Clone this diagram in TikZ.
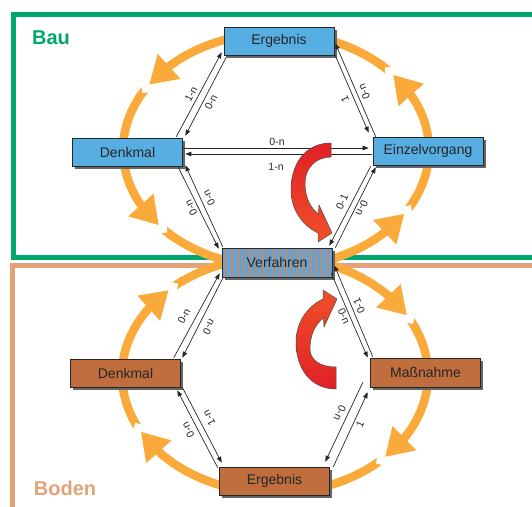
\documentclass[tikz,border=0pt]{standalone}
\usepackage{fontspec}
\setmainfont{Liberation Sans}
\usetikzlibrary{arrows.meta,bending,calc,shadows}
\definecolor{bblue}{RGB}{86,174,226}
\definecolor{bbrown}{RGB}{192,110,62}
\definecolor{orng}{RGB}{250,170,58}
\definecolor{gfr}{RGB}{0,166,108}
\definecolor{sfr}{RGB}{226,162,122}
\definecolor{vblue}{RGB}{92,164,220}
\definecolor{vor}{RGB}{204,140,96}
\definecolor{redA}{RGB}{226,32,38}
\definecolor{redB}{RGB}{240,80,40}
\tikzset{
  box/.style={draw=black!85, line width=0.6pt, minimum width=110pt, minimum height=28pt,
    inner sep=0pt, font=\fontsize{14}{16}\selectfont, text=black!85,
    drop shadow={shadow xshift=2.5pt, shadow yshift=-2.5pt, fill=black!60, opacity=1}},
  baubox/.style={box, fill=bblue},
  bodbox/.style={box, fill=bbrown},
  verfbox/.style={box, minimum height=29pt, fill=vblue,
    path picture={\foreach \k in {0,...,37}{\fill[vor] ($(path picture bounding box.south west)+(\k*3+1.5,0)$) rectangle ++(1.5pt,31pt);}}},
  conn/.style={line width=0.7pt, draw=black!85, -{Triangle[length=6pt,width=4.5pt]}},
  lab/.style={font=\fontsize{10.5}{12}\selectfont, inner sep=0pt, text=black!85},
  loopseg/.style={line width=8.5pt, draw=orng},
  headend/.style={-{Triangle[width=32pt,length=27pt]}},
  notchhead/.style={{Triangle Cap[reversed]}-{Triangle[width=32pt,length=27pt]}},
  notchonly/.style={{Triangle Cap[reversed]}-},
  frameg/.style={draw=gfr, line width=5pt},
  frames/.style={draw=sfr, line width=5pt},
  redarrow/.style={draw=black!70, line width=0.5pt}
}
\begin{document}
\begin{tikzpicture}[x=1pt,y=-1pt]
\useasboundingbox (0,0) rectangle (532,506);
\clip (0,0) rectangle (532,506);
% frames
\draw[frameg] (545,14.5) -- (13,14.5) -- (13,257.5) -- (545,257.5);
\draw[frames] (545,265.5) -- (12.5,265.5) -- (12.5,520);
\node[font=\bfseries\fontsize{20}{24}\selectfont, text=gfr] (bau) at (51,38) {Bau};
\node[font=\bfseries\fontsize{20}{24}\selectfont, text=sfr] (boden) at (65,488.5) {Boden};
% orange loops, top
\draw[loopseg, headend] ({276+153*cos(100)},{150-117*sin(100)}) arc[start angle=100, end angle=146, x radius=153pt, y radius=117pt];
\draw[loopseg, notchhead] ({276+153*cos(149)},{150-117*sin(149)}) arc[start angle=149, end angle=220, x radius=153pt, y radius=117pt];
\draw[loopseg, notchonly] ({276+153*cos(223)},{150-117*sin(223)}) arc[start angle=223, end angle=255, x radius=153pt, y radius=117pt];
\draw[loopseg, headend] ({276+153*cos(285)},{150-117*sin(285)}) arc[start angle=285, end angle=327, x radius=153pt, y radius=117pt];
\draw[loopseg, notchhead] ({276+153*cos(330)},{150-117*sin(330)}) arc[start angle=330, end angle=400, x radius=153pt, y radius=117pt];
\draw[loopseg, notchonly] ({276+153*cos(43)},{150-117*sin(43)}) arc[start angle=43, end angle=80, x radius=153pt, y radius=117pt];
% orange loops, bottom
\draw[loopseg, headend] ({275+153*cos(72)},{375-118*sin(72)}) arc[start angle=72, end angle=30.4, x radius=153pt, y radius=118pt];
\draw[loopseg, notchhead] ({275+153*cos(27.5)},{375-118*sin(27.5)}) arc[start angle=27.5, end angle=-44, x radius=153pt, y radius=118pt];
\draw[loopseg, notchonly] ({275+153*cos(-47)},{375-118*sin(-47)}) arc[start angle=-47, end angle=-72, x radius=153pt, y radius=118pt];
\draw[loopseg, headend] ({275+153*cos(252)},{375-118*sin(252)}) arc[start angle=252, end angle=208.7, x radius=153pt, y radius=118pt];
\draw[loopseg, notchhead] ({275+153*cos(205.8)},{375-118*sin(205.8)}) arc[start angle=205.8, end angle=134, x radius=153pt, y radius=118pt];
\draw[loopseg, notchonly] ({275+153*cos(131)},{375-118*sin(131)}) arc[start angle=131, end angle=108, x radius=153pt, y radius=118pt];
% boxes
\node[baubox] (ergT) at (279,41) {Ergebnis};
\node[baubox] (denT) at (127.5,152) {Denkmal};
\node[baubox] (einz) at (428,151) {Einzelvorgang};
\node[verfbox] (verf) at (277,262.5) {Verfahren};
\node[bodbox] (denB) at (125.5,373) {Denkmal};
\node[bodbox, minimum height=29pt] (mass) at (425.5,372.5) {Maßnahme};
\node[bodbox] (ergB) at (274.5,481) {Ergebnis};
% connectors, top
\draw[conn] ($(denT.north east)+(-6.5,-1)$) -- ($(ergT.south west)+(-2,-3)$);
\draw[conn] ($(ergT.south west)+(3,1)$) -- ($(denT.north east)+(2.5,-2)$);
\draw[conn] ($(einz.north west)+(3,0)$) -- ($(ergT.south east)+(1,-12)$);
\draw[conn] ($(ergT.south east)+(0,-2)$) -- ($(einz.north west)+(-4,-4)$);
\draw[conn] ($(denT.east)+(0,-4)$) -- ($(einz.west)+(-4,-3)$);
\draw[conn] ($(einz.west)+(-1,3)$) -- ($(denT.east)+(2.5,2)$);
\draw[conn] ($(denT.south east)+(-4.5,1)$) -- ($(verf.north west)+(-3,1)$);
\draw[conn] ($(verf.north west)+(1,-1)$) -- ($(denT.south east)+(2.5,-1)$);
\draw[conn] ($(einz.south west)+(-2,1)$) -- ($(verf.north east)+(-3,-2)$);
\draw[conn] ($(verf.north east)+(3,0)$) -- ($(einz.south west)+(3,2)$);
% connectors, bottom
\draw[conn] ($(denB.north east)+(-7,-1)$) -- ($(verf.south west)+(-2,-4)$);
\draw[conn] ($(verf.south west)+(1,1)$) -- ($(denB.north east)+(1.5,-1)$);
\draw[conn] ($(ergB.north west)+(-1.5,1)$) -- ($(denB.south east)+(-3.5,3)$);
\draw[conn] ($(denB.south east)+(1.5,0)$) -- ($(ergB.north west)+(2.5,-4)$);
\draw[conn] ($(mass.north west)+(2.5,-1)$) -- ($(verf.south east)+(2,-12)$);
\draw[conn] ($(verf.south east)+(-1,-4)$) -- ($(mass.north west)+(-2.5,0)$);
\coordinate (freeend) at (363,382);
\draw[conn] (freeend) -- ($(ergB.north east)+(-4.5,-5)$);
\draw[conn] ($(ergB.north east)+(3.5,0)$) -- ($(mass.south west)+(-2.5,5)$);
% labels
\node[lab, rotate=62] (l1) at (191,94) {1-n};
\node[lab, rotate=62] (l2) at (211,102) {0-n};
\node[lab, rotate=113] (l3) at (364,92) {0-n};
\node[lab, rotate=113] (l4) at (345,99) {1};
\node[lab] (l5) at (277,142) {0-n};
\node[lab] (l6) at (276,167) {1-n};
\node[lab, rotate=116] (l7) at (191,208) {0-n};
\node[lab, rotate=116] (l8) at (209,198) {0-n};
\node[lab, rotate=65] (l9) at (342,202) {0-1};
\node[lab, rotate=245] (l10) at (362,208) {0-n};
\node[lab, rotate=62] (l11) at (184,316) {0-n};
\node[lab, rotate=62, yscale=-1] (l12) at (209,327) {0-n};
\node[lab, rotate=118] (l13) at (188,430) {0-n};
\node[lab, rotate=118] (l14) at (209,418) {1-n};
\node[lab, rotate=114] (l15) at (359,306) {0-1};
\node[lab, rotate=-66] (l16) at (344,316) {0-n};
\node[lab, rotate=245] (l17) at (340,413) {0-n};
\node[lab, rotate=65] (l18) at (360,424) {1};
% red turn arrows
\path[redarrow, top color=redA, bottom color=redB]
  (331,143) .. controls (306,143) and (291,163) .. (291,190)
  .. controls (291,210) and (303,226) .. (318,233)
  -- (318,242) -- (332,233) -- (319,205) -- (318.5,214)
  .. controls (309,207) and (305,195) .. (305,183)
  .. controls (305,168) and (316,157) .. (331,157) -- cycle;
\path[redarrow, top color=redB, bottom color=redA]
  (336,389) .. controls (311,389) and (296,369) .. (296,342)
  .. controls (296,322) and (308,306) .. (323,299)
  -- (323,290) -- (337,299) -- (324,327) -- (323.5,318)
  .. controls (314,325) and (310,337) .. (310,349)
  .. controls (310,360) and (320,367) .. (336,367) -- cycle;
\end{tikzpicture}
\end{document}
